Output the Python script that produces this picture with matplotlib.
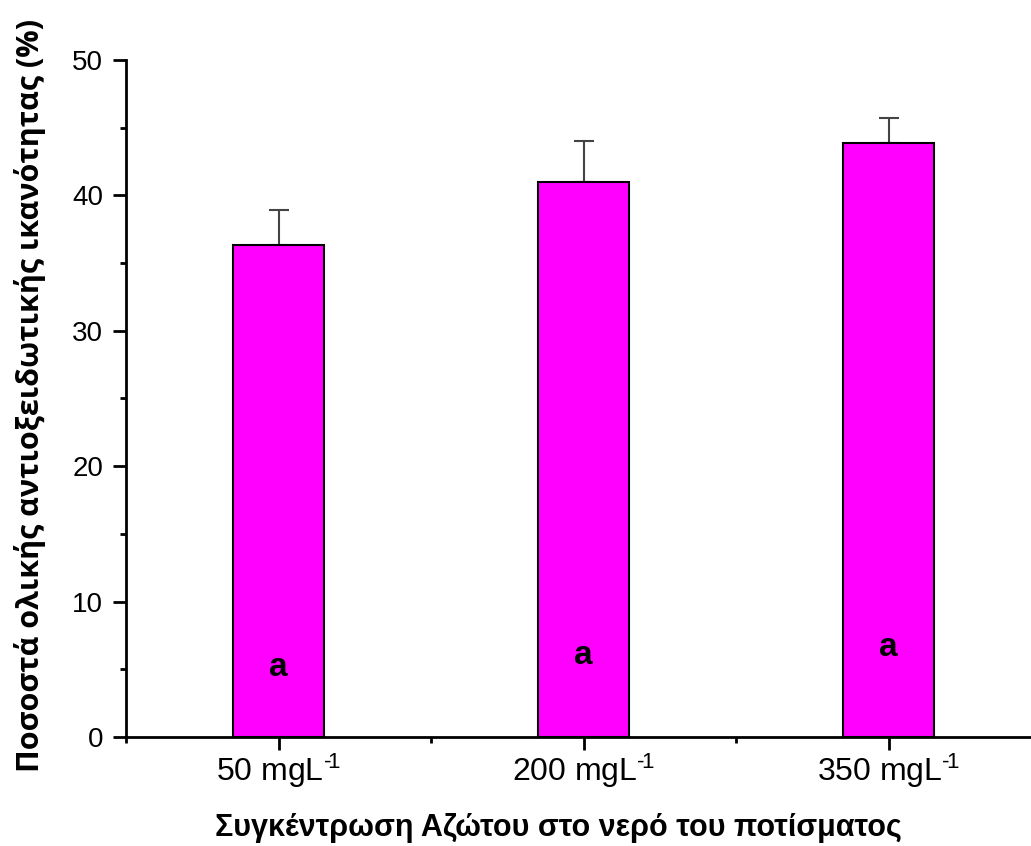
import matplotlib
matplotlib.use('Agg')
import matplotlib.pyplot as plt
from matplotlib.ticker import MultipleLocator

plt.rcParams['font.family'] = ['Liberation Sans', 'DejaVu Sans']
plt.rcParams['mathtext.fontset'] = 'custom'
plt.rcParams['mathtext.rm'] = 'Liberation Sans'
plt.rcParams['mathtext.it'] = 'Liberation Sans'
plt.rcParams['axes.unicode_minus'] = False

# data
categories = ['50 mgL$^{\u2010\\!1}$', '200 mgL$^{\u2010\\!1}$', '350 mgL$^{\u2010\\!1}$']
positions = [1, 2, 3]
values = [36.3, 41.0, 43.9]
errors = [2.6, 3.0, 1.8]
letters = ['a', 'a', 'a']
letter_y = [5.1, 6.0, 6.6]

fig = plt.figure(figsize=(10.31, 8.46), dpi=100)
ax = fig.add_axes([126 / 1031, 109 / 846, 905 / 1031, 677 / 846])

ax.bar(positions, values, width=0.30, color='#ff00ff', edgecolor='black',
       linewidth=1.5, zorder=2)
ax.errorbar(positions, values, yerr=[[0] * len(errors), errors], fmt='none',
            ecolor='#444444', elinewidth=1.5, capsize=7, capthick=1.5, zorder=1)

for x, y, t in zip(positions, letter_y, letters):
    ax.text(x, y, t, ha='center', va='center', fontsize=24, fontweight='bold', zorder=3)

ax.set_xlim(0.5, 0.5 + 905 / 305)
ax.set_ylim(0, 50)
ax.set_xticks(positions)
ax.set_xticklabels(categories)
ax.xaxis.set_minor_locator(MultipleLocator(0.5))
ax.yaxis.set_major_locator(MultipleLocator(10))
ax.yaxis.set_minor_locator(MultipleLocator(5))

for s in ['top', 'right']:
    ax.spines[s].set_visible(False)
for s in ['left', 'bottom']:
    ax.spines[s].set_linewidth(2.0)

ax.tick_params(which='major', direction='out', length=9.5, width=2.0)
ax.tick_params(which='minor', direction='out', length=4.5, width=2.0)
ax.tick_params(axis='x', labelsize=23, pad=1)
ax.tick_params(axis='y', labelsize=20, pad=7)

ax.set_xlabel('Συγκέντρωση Αζώτου στο νερό του ποτίσματος', fontsize=22,
              fontweight='bold')
ax.xaxis.set_label_coords((558 - 126) / 905, -(828 - 737) / 677)
ax.xaxis.label.set_va('center')
ax.set_ylabel('Ποσοστά ολικής αντιοξειδωτικής ικανότητας (%)', fontsize=22,
              fontweight='bold', family=['Open Sans', 'DejaVu Sans'])
ax.yaxis.set_label_coords(-(126 - 30) / 905, (737 - 395) / 677)
ax.yaxis.label.set_va('center')

fig.savefig('out.png', dpi=100)
